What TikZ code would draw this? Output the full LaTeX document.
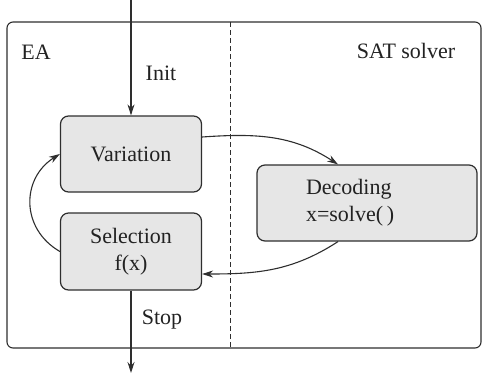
\documentclass[tikz,border=0pt]{standalone}
\usepackage{fontspec}
\setmainfont{Liberation Serif}
\usetikzlibrary{arrows.meta}
\definecolor{linegray}{HTML}{2E2E2E}
\definecolor{boxfill}{HTML}{E6E6E6}
\definecolor{inkgray}{HTML}{222222}
\begin{document}
\begin{tikzpicture}[x=1pt,y=-1pt,
  font=\fontsize{22}{27}\selectfont,
  every node/.style={text=inkgray},
  stepbox/.style={draw=linegray, line width=1.2pt, fill=boxfill, rounded corners=8pt,
    minimum width=141pt, minimum height=76pt, align=center, inner sep=0pt},
  flow/.style={draw=linegray, line width=1.1pt, -{Stealth[length=11pt,width=7pt]}},
]
\useasboundingbox (0,0) rectangle (482,373);

% outer frame and the dashed divider between the two parts
\draw[linegray, line width=1.1pt, rounded corners=6pt] (7,22) rectangle (481,348);
\draw[linegray, line width=1pt, dash pattern=on 5pt off 3pt] (230,22) -- (230,348);

\node (ea) at (36,52) {EA};
\node (sat) at (406,51) {SAT solver};

% process boxes
\node[stepbox] (var) at (131,154) {Variation};
\node[stepbox, minimum height=77pt] (sel) at (131,251.5) {Selection\\f(x)};
\node[stepbox, minimum width=220pt, inner xsep=49pt, text width=122pt, align=left] (dec) at (367,203) {Decoding\\x=solve(\,)};

% entry and exit
\coordinate (top) at (131,0);
\coordinate (bot) at (131,373);
\draw[flow] (top) -- (var.north);
\draw[flow] (sel.south) -- (bot);
\node (init) at (161,73) {Init};
\node (stop) at (162,320) {Stop};

% loop between the two parts
\draw[flow] ([yshift=17pt]var.east) to[out=4, in=147] ([xshift=-29pt]dec.north);
\draw[flow] ([xshift=-29pt]dec.south) to[out=213, in=0] ([yshift=-22.5pt]sel.east);
\draw[flow] (sel.west) to[out=150, in=212, looseness=1.2] (var.west);
\end{tikzpicture}
\end{document}
